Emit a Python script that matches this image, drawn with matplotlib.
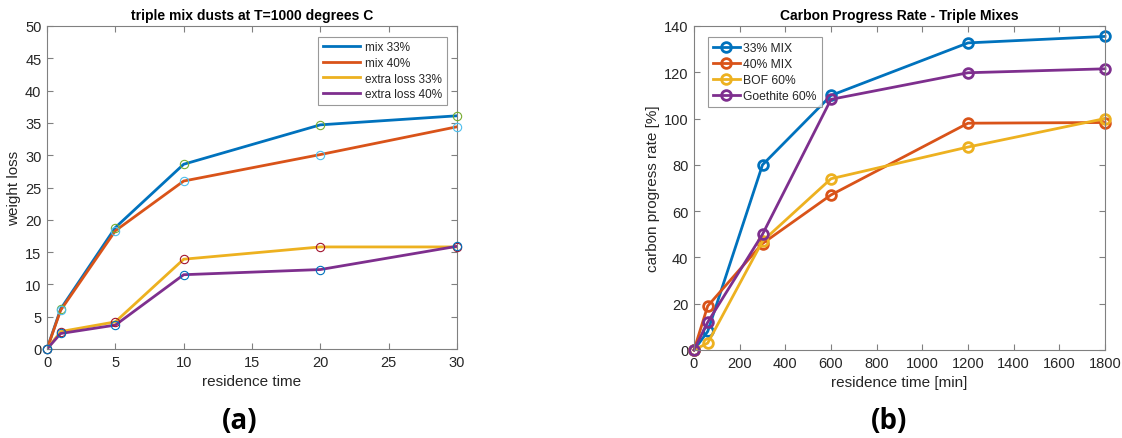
import numpy as np
import matplotlib
matplotlib.use('Agg')
import matplotlib.pyplot as plt

plt.rcParams['font.family'] = ['Liberation Sans', 'DejaVu Sans']

# (a) weight loss
t_a = [0, 1, 5, 10, 20, 30]
mix33 = [0, 6.2, 18.8, 28.6, 34.7, 36.1]
mix40 = [0, 6.0, 18.3, 26.0, 30.1, 34.4]
extra33 = [0, 2.7, 4.2, 13.9, 15.8, 15.8]
extra40 = [0, 2.4, 3.7, 11.5, 12.3, 15.9]
labels_a = ["mix 33%", "mix 40%", "extra loss 33%", "extra loss 40%"]

# (b) carbon progress
t_b = [0, 60, 300, 600, 1200, 1800]
mix33_b = [0, 8, 80, 110, 132.7, 135.5]
mix40_b = [0, 19, 46, 67, 98, 98.3]
bof60 = [0, 3, 47, 74, 87.7, 100]
goeth60 = [0, 12, 50, 108.3, 119.8, 121.5]
labels_b = ["33% MIX", "40% MIX", "BOF 60%", "Goethite 60%"]

line_cols = ['#0072BD', '#D95319', '#EDB120', '#7E2F8E']
mark_cols = ['#77AC30', '#4DBEEE', '#A2142F', '#0072BD']
txt = '#262626'
axc = '#808080'

fig = plt.figure(figsize=(11.22, 4.39), dpi=100)
ax1 = fig.add_axes([47/1122, 1-350/439, 410/1122, 323/439])
ax2 = fig.add_axes([694/1122, 1-351/439, 411/1122, 324/439])

def style(ax):
    for s in ax.spines.values():
        s.set_color(axc)
        s.set_linewidth(0.8)
    ax.tick_params(direction='in', top=True, right=True, colors=axc,
                   labelcolor=txt, labelsize=10.5, length=4, pad=4)

series_a = [mix33, mix40, extra33, extra40]
for i, ys in enumerate(series_a):
    ax1.plot(t_a, ys, color=line_cols[i], lw=2, label=labels_a[i], zorder=2)
for i, ys in enumerate(series_a):
    ax1.plot(t_a, ys, 'o', mfc='none', mec=mark_cols[i], mew=0.8, ms=6, zorder=3, clip_on=False)
ax1.set_xlim(0, 30)
ax1.set_ylim(0, 50)
ax1.set_xticks(np.arange(0, 31, 5))
ax1.set_yticks(np.arange(0, 51, 5))
ax1.set_xlabel("residence time", fontsize=11, color=txt)
ax1.set_ylabel("weight loss", fontsize=11, color=txt, labelpad=3)
ax1.set_title("triple mix dusts at T=1000 degrees C", fontsize=10, fontweight='bold', pad=5)
style(ax1)
leg = ax1.legend(loc='upper right', fontsize=8.5, fancybox=False, edgecolor=axc,
                 handlelength=3.2, borderpad=0.4, labelspacing=0.3, handletextpad=0.4,
                 bbox_to_anchor=(0.99, 0.985))
leg.get_frame().set_linewidth(0.8)
for t in leg.get_texts():
    t.set_color(txt)

series_b = [mix33_b, mix40_b, bof60, goeth60]
for i, ys in enumerate(series_b):
    ax2.plot(t_b, ys, '-o', color=line_cols[i], lw=2, mfc='none', mew=2, ms=7,
             label=labels_b[i], clip_on=False)
ax2.set_xlim(0, 1800)
ax2.set_ylim(0, 140)
ax2.set_xticks(np.arange(0, 1801, 200))
ax2.set_yticks(np.arange(0, 141, 20))
ax2.set_xlabel("residence time [min]", fontsize=11, color=txt)
ax2.set_ylabel("carbon progress rate [%]", fontsize=11, color=txt, labelpad=3)
ax2.set_title("Carbon Progress Rate - Triple Mixes", fontsize=10, fontweight='bold', pad=5)
style(ax2)
leg2 = ax2.legend(loc='upper left', fontsize=8.7, fancybox=False, edgecolor=axc,
                  handlelength=2.2, borderpad=0.4, labelspacing=0.35, handletextpad=0.3,
                  bbox_to_anchor=(0.02, 0.985))
leg2.get_frame().set_linewidth(0.8)
for t in leg2.get_texts():
    t.set_color(txt)

fig.text(240/1122, 1-422/439, "(a)", fontsize=20, fontweight='bold', ha='center', va='center',
         family=['Open Sans', 'DejaVu Sans'])
fig.text(889/1122, 1-422/439, "(b)", fontsize=20, fontweight='bold', ha='center', va='center',
         family=['Open Sans', 'DejaVu Sans'])

fig.savefig('out.png', dpi=100)
